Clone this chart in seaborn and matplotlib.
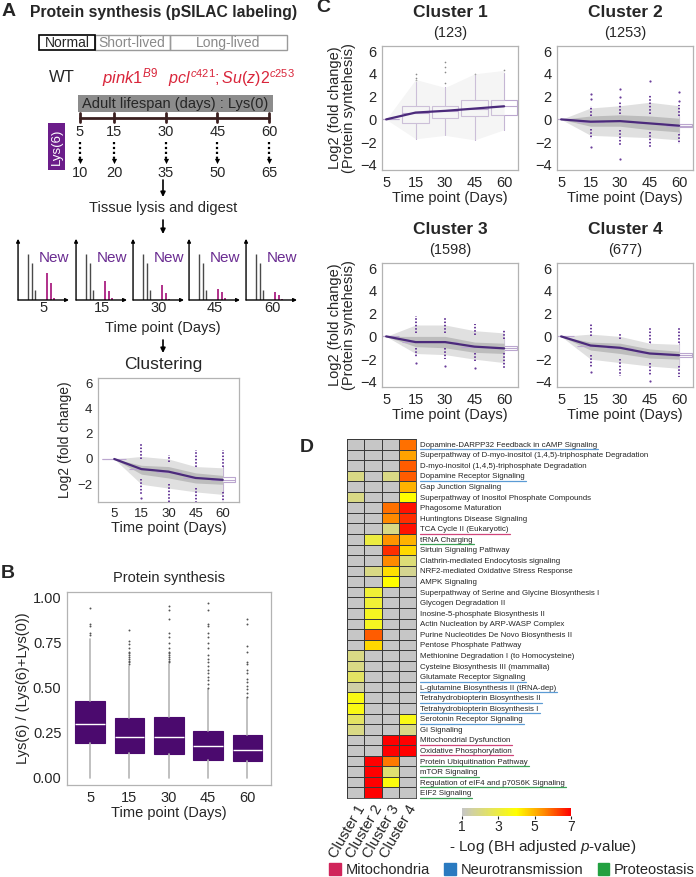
import numpy as np
import pandas as pd
import matplotlib
matplotlib.use('Agg')
import matplotlib.pyplot as plt
import seaborn as sns
from matplotlib.colors import LinearSegmentedColormap
from matplotlib.patches import Rectangle, Patch
from matplotlib.lines import Line2D

# ---------------- data ----------------
days = ['5', '15', '30', '45', '60']
day_vals = [5, 15, 30, 45, 60]
chase_days = ['10', '20', '35', '50', '65']

# panel A mini spectra (relative peak heights)
old_peaks = [0.76, 0.62, 0.16]
new_peaks = [[0.45, 0.29, 0.04], [0.32, 0.15, 0.03], [0.25, 0.12, 0.02],
             [0.19, 0.13, 0.04], [0.13, 0.09, 0.02]]

# panel B box statistics
b_q1 = [0.195, 0.135, 0.13, 0.10, 0.095]
b_med = [0.30, 0.225, 0.225, 0.175, 0.155]
b_q3 = [0.425, 0.33, 0.335, 0.26, 0.235]
b_lo = [0.0, 0.0, 0.0, 0.0, 0.0]
b_hi = [0.77, 0.62, 0.63, 0.49, 0.44]
b_fliers = [
    [0.79, 0.80, 0.84, 0.85, 0.94],
    [0.63, 0.64, 0.65, 0.66, 0.67, 0.68, 0.69, 0.70, 0.72, 0.74, 0.76, 0.82],
    [0.64, 0.65, 0.66, 0.67, 0.68, 0.69, 0.70, 0.72, 0.75, 0.78, 0.80, 0.88, 0.93, 0.95],
    [0.50, 0.52, 0.54, 0.56, 0.58, 0.60, 0.62, 0.64, 0.66, 0.68, 0.72, 0.75,
     0.78, 0.80, 0.84, 0.85, 0.93, 0.97],
    [0.45, 0.47, 0.49, 0.51, 0.53, 0.55, 0.58, 0.60, 0.63, 0.64, 0.70, 0.73, 0.85, 0.88],
]

# panel C clusters
clusters = ['Cluster 1', 'Cluster 2', 'Cluster 3', 'Cluster 4']
cluster_n = [123, 1253, 1598, 677]
mean_c = [[0, 0.6, 0.75, 0.95, 1.15], [0, -0.2, -0.15, -0.35, -0.55],
          [0, -0.5, -0.5, -0.9, -1.05], [0, -0.8, -1.0, -1.5, -1.65]]
env_hi = [[0, 3.5, 2.8, 4.0, 4.3], [0, 1.0, 1.2, 1.5, 1.2],
          [0, 1.0, 1.0, 0.5, 0.3], [0, 0.2, 0.0, -0.6, -0.7]]
env_lo = [[0, -1.7, -1.4, -1.8, -0.9], [0, -1.4, -1.5, -1.6, -1.8],
          [0, -1.5, -1.6, -2.0, -2.3], [0, -2.0, -2.3, -2.6, -2.8]]
core_hi = [[0, 1.2, 1.2, 1.7, 1.7], [0, 0.3, 0.4, 0.3, 0.1],
           [0, 0.0, 0.0, -0.5, -0.6], [0, -0.5, -0.6, -1.1, -1.3]]
core_lo = [[0, -0.3, 0.1, 0.3, 0.4], [0, -0.6, -0.6, -0.9, -1.1],
           [0, -0.9, -1.0, -1.4, -1.5], [0, -1.2, -1.5, -1.9, -2.0]]
c_q1 = [[0, -0.3, 0.1, 0.3, 0.4], [0, -0.45, -0.4, -0.6, -0.7],
        [0, -0.75, -0.75, -1.1, -1.2], [0, -1.05, -1.25, -1.75, -1.85]]
c_q3 = [[0, 1.15, 1.2, 1.7, 1.7], [0, 0.05, 0.1, -0.1, -0.4],
        [0, -0.25, -0.25, -0.7, -0.85], [0, -0.55, -0.75, -1.25, -1.45]]
c_wlo = [[0, -1.7, -1.4, -1.8, -0.9], [0, -0.8, -0.9, -1.1, -1.3],
         [0, -1.0, -1.0, -1.5, -1.5], [0, -1.6, -2.0, -2.3, -2.6]]
c_whi = [[0, 3.3, 2.8, 3.9, 4.1], [0, 0.3, 0.5, 0.5, 0.3],
         [0, 0.3, 0.3, 0.1, -0.2], [0, 0.0, -0.2, -0.6, -0.6]]
c1_fliers = [[], [3.5, 3.6, 4.0], [3.2, 4.2, 4.6, 5.0], [4.0], [4.3]]
up_runs = [None,
           [(0, 0), (0.3, 1.2), (0.5, 1.5), (0.5, 2.1), (0.3, 1.3)],
           [(0, 0), (0.3, 1.8), (0.3, 1.7), (0.1, 1.1), (-0.2, 0.6)],
           [(0, 0), (0.0, 1.2), (-0.2, 0.3), (-0.6, 0.7), (-0.6, 0.7)]]
dn_runs = [None,
           [(0, 0), (-0.8, -1.7), (-0.9, -2.3), (-1.1, -2.4), (-1.3, -2.2)],
           [(0, 0), (-1.0, -1.8), (-1.0, -2.0), (-1.5, -2.2), (-1.5, -2.8)],
           [(0, 0), (-1.6, -2.8), (-2.0, -3.5), (-2.3, -3.5), (-2.6, -3.6)]]
iso_pts = [None,
           [[], [1.8, 2.2, -2.4], [2.0, 2.7, -3.5], [3.4], [1.6, 2.4]],
           [[], [-2.3], [-2.6], [-2.8], []],
           [[], [-3.1], [], [-3.9], []]]

# panel D heatmap
pathways = [
    'Dopamine-DARPP32 Feedback in cAMP Signaling',
    'Superpathway of D-myo-inositol (1,4,5)-triphosphate Degradation',
    'D-myo-inositol (1,4,5)-triphosphate Degradation',
    'Dopamine Receptor Signaling',
    'Gap Junction Signaling',
    'Superpathway of Inositol Phosphate Compounds',
    'Phagosome Maturation',
    'Huntingtons Disease Signaling',
    'TCA Cycle II (Eukaryotic)',
    'tRNA Charging',
    'Sirtuin Signaling Pathway',
    'Clathrin-mediated Endocytosis signaling',
    'NRF2-mediated Oxidative Stress Response',
    'AMPK Signaling',
    'Superpathway of Serine and Glycine Biosynthesis I',
    'Glycogen Degradation II',
    'Inosine-5-phosphate Biosynthesis II',
    'Actin Nucleation by ARP-WASP Complex',
    'Purine Nucleotides De Novo Biosynthesis II',
    'Pentose Phosphate Pathway',
    'Methionine Degradation I (to Homocysteine)',
    'Cysteine Biosynthesis III (mammalia)',
    'Glutamate Receptor Signaling',
    'L-glutamine Biosynthesis II (tRNA-dep)',
    'Tetrahydrobiopterin Biosynthesis II',
    'Tetrahydrobiopterin Biosynthesis I',
    'Serotonin Receptor Signaling',
    'Gi Signaling',
    'Mitochondrial Dysfunction',
    'Oxidative Phosphorylation',
    'Protein Ubiquitination Pathway',
    'mTOR Signaling',
    'Regulation of eIF4 and p70S6K Signaling',
    'EIF2 Signaling',
]
c1_vals = [1, 1, 1, 2, 1, 2, 1, 1, 1, 1, 1, 1, 1, 1, 1, 1, 1,
           1, 1, 1, 2, 2, 2.5, 1.5, 3.7, 3.7, 2.5, 2, 1, 1, 1, 1, 1, 1]
c2_vals = [1, 1, 1, 1, 1, 1, 1, 1, 1, 3, 1, 1, 2, 1, 3.2, 3.2, 3.5,
           3.5, 6.0, 4.5, 1, 1, 1, 1, 1, 1, 1, 1, 1, 1, 7, 7, 7, 7]
c3_vals = [1, 1, 1, 2, 1, 1, 5.8, 5.5, 2, 5.4, 6.5, 5.5, 4.4, 4.0, 1, 1, 1,
           1, 1, 1, 1, 1, 1, 1, 1, 1, 1, 1, 7, 7, 5.7, 2.3, 3.8, 1]
c4_vals = [5.8, 5.2, 6.0, 6.0, 5.0, 4.0, 6.8, 6.5, 6.8, 5.0, 4.5, 2.2, 1.8, 1, 1, 1, 1,
           1, 1, 1, 1, 1, 1, 1, 1, 1, 3.7, 2, 7, 7, 1, 1, 1, 1]
path_cat = ['N', '', '', 'N', '', '', '', '', 'M', 'P', '', '', '', '', '', '', '',
            '', '', '', '', '', 'N', 'N', 'N', 'N', 'N', '', 'M', 'M', 'P', 'P', 'P', 'P']
cat_names = ['Mitochondria', 'Neurotransmission', 'Proteostasis']

# ---------------- style ----------------
sns.set_style('white')
plt.rcParams['font.family'] = ['Liberation Sans', 'DejaVu Sans']
plt.rcParams['mathtext.fontset'] = 'custom'
plt.rcParams['mathtext.it'] = 'Liberation Sans:italic'
plt.rcParams['mathtext.rm'] = 'Liberation Sans'
plt.rcParams['mathtext.bf'] = 'Liberation Sans:bold'

W, H = 696, 877
purple_dark = '#4b0a6e'
line_c = '#4b2a7b'
dot_c = '#6a3d9a'
box_edge = '#bba6cf'
spine_c = '#b3b3b3'
red_txt = '#d9263b'
cat_colors = {'M': '#d0245a', 'N': '#2a7ac0', 'P': '#22a040'}
ul_colors = {'M': '#d0457a', 'N': '#5b9bd5', 'P': '#3aa055'}


def box(l, t, r, b):
    return [l / W, 1 - b / H, (r - l) / W, (b - t) / H]


def style_axes(ax, fs):
    for s in ax.spines.values():
        s.set_visible(True)
        s.set_color(spine_c)
        s.set_linewidth(0.9)
    ax.tick_params(labelsize=fs, length=2, color=spine_c, pad=2)


def draw_cluster(ax, k, xlim, ylim, fs):
    x = np.arange(len(days))
    stats = []
    for j in range(len(days)):
        stats.append(dict(med=mean_c[k][j], q1=c_q1[k][j], q3=c_q3[k][j],
                          whislo=c_wlo[k][j], whishi=c_whi[k][j],
                          fliers=c1_fliers[j] if k == 0 else []))
    ax.bxp(stats, positions=x, widths=0.9, showcaps=False, patch_artist=True,
           showfliers=(k == 0),
           boxprops=dict(facecolor='white', edgecolor=box_edge, lw=0.8),
           whiskerprops=dict(color=box_edge, lw=0.8),
           medianprops=dict(color=box_edge, lw=0.8),
           flierprops=dict(marker='o', ms=1.2, mfc='#8a8a8a', mec='none'))
    if k == 0:
        ax.fill_between(x, env_lo[k], env_hi[k], color='#e6e6e6', alpha=0.4, lw=0, zorder=2)
    else:
        ax.fill_between(x, env_lo[k], env_hi[k], color='#e0e0e0', lw=0, zorder=2)
        ax.fill_between(x, core_lo[k], core_hi[k], color='#bdbdbd', lw=0, zorder=2)
        for j in range(len(days)):
            for a, b in (up_runs[k][j], dn_runs[k][j]):
                if a != b:
                    ax.vlines(j, a, b, colors=dot_c, linestyles=(0, (0.8, 0.9)), lw=1.4, zorder=4)
            pts = iso_pts[k][j]
            if pts:
                ax.scatter([j] * len(pts), pts, s=2.5, color=dot_c, lw=0, zorder=4)
    sns.lineplot(x=x, y=mean_c[k], ax=ax, color=line_c, lw=1.6, zorder=5)
    ax.set_xlim(*xlim)
    ax.set_ylim(*ylim)
    ax.set_xticks(x)
    ax.set_xticklabels(days)
    style_axes(ax, fs)


fig = plt.figure(figsize=(W / 100, H / 100), dpi=100)

# overlay for schematic (pixel coordinates)
ov = fig.add_axes([0, 0, 1, 1])
ov.set_xlim(0, W)
ov.set_ylim(H, 0)
ov.axis('off')


def t(x, y, s, **kw):
    kw.setdefault('ha', 'center')
    kw.setdefault('va', 'center')
    ov.text(x, y, s, **kw)


t(9, 11, 'A', fontsize=14, weight='bold')
t(30, 13, 'Protein synthesis (pSILAC labeling)', fontsize=11.3, weight='bold', ha='left')
ov.add_patch(Rectangle((95, 35), 75, 15, fill=False, ec='#9a9a9a', lw=1))
ov.add_patch(Rectangle((170, 35), 117, 15, fill=False, ec='#9a9a9a', lw=1))
ov.add_patch(Rectangle((39, 35), 56, 15, fill=False, ec='black', lw=1.2))
t(67, 43, 'Normal', fontsize=10)
t(132, 43, 'Short-lived', fontsize=10, color='#8a8a8a')
t(228, 43, 'Long-lived', fontsize=10, color='#8a8a8a')
t(62, 78, 'WT', fontsize=12)
t(130, 78, r'$pink1^{B9}$', fontsize=12, color=red_txt)
t(231, 78, r'$\mathit{pcl}^{c421}\mathit{;Su(z)2}^{c253}$', fontsize=11.5, color=red_txt)
ov.add_patch(Rectangle((78, 95), 195, 17, fc='#8c8c8c', ec='none'))
t(175, 104, 'Adult lifespan (days) : Lys(0)', fontsize=10.5)

# timeline, positions scaled by day
tl_x = [80 + (d - day_vals[0]) * 189 / (day_vals[-1] - day_vals[0]) for d in day_vals]
ov.plot([tl_x[0], tl_x[-1]], [118, 118], color='#3b2020', lw=2)
for i, xx in enumerate(tl_x):
    ov.plot([xx, xx], [113, 122], color='#3b2020', lw=2)
    t(xx, 132, days[i], fontsize=10.5)
    ov.plot([xx, xx], [142, 160], color='black', lw=1.6, ls=(0, (1, 1.2)))
    ov.scatter([xx], [161], marker='v', s=14, color='black', lw=0)
    t(xx, 173, chase_days[i], fontsize=10.5)
ov.add_patch(Rectangle((48, 123), 17, 47, fc='#6b1d8a', ec='none'))
t(56.5, 146.5, 'Lys(6)', fontsize=9.5, color='white', rotation=90)

for y0, y1 in [(180, 197), (220, 234), (340, 353)]:
    ov.annotate('', xy=(163, y1), xytext=(163, y0),
                arrowprops=dict(arrowstyle='-|>', color='black', lw=1.2,
                                mutation_scale=7, shrinkA=0, shrinkB=0))
t(163, 208, 'Tissue lysis and digest', fontsize=10.5)
t(163, 328, 'Time point (Days)', fontsize=10.5)
t(163, 365, 'Clustering', fontsize=12.5)

# mini spectra
spec_left = [17, 75, 132, 188, 245]
for i, l in enumerate(spec_left):
    sa = fig.add_axes(box(l, 240, l + 52, 300))
    sa.set_xlim(0, 1)
    sa.set_ylim(0, 1)
    sa.axis('off')
    sa.annotate('', xy=(0.02, 1.02), xytext=(0.02, 0), xycoords='axes fraction',
                arrowprops=dict(arrowstyle='-|>', color='black', lw=1, mutation_scale=5,
                                shrinkA=0, shrinkB=0))
    sa.annotate('', xy=(1.0, 0), xytext=(0.02, 0), xycoords='axes fraction',
                arrowprops=dict(arrowstyle='-|>', color='black', lw=1, mutation_scale=5,
                                shrinkA=0, shrinkB=0))
    sa.vlines([0.21, 0.28, 0.34], 0, old_peaks, colors='#4a4a4a', lw=1.0)
    sa.vlines([0.58, 0.65, 0.71], 0, new_peaks[i], colors='#b0308a', lw=1.4)
    sa.text(0.72, 0.7, 'New', fontsize=11, color='#6a2c91', ha='center', va='center')
    t(l + 27, 308, days[i], fontsize=10.5)

# clustering thumbnail (panel A)
axa = fig.add_axes(box(98, 378, 239, 502))
draw_cluster(axa, 3, (-0.6, 4.6), (-3.4, 6.4), 9.5)
axa.set_yticks([-2, 0, 2, 4, 6])
axa.set_xlabel('Time point (Days)', fontsize=10.5, labelpad=1)
axa.set_ylabel('Log2 (fold change)', fontsize=10)

# ---------------- panel B ----------------
t(8, 574, 'B', fontsize=14, weight='bold')
axb = fig.add_axes(box(67, 592, 271, 785))
bstats = []
for j in range(len(days)):
    bstats.append(dict(med=b_med[j], q1=b_q1[j], q3=b_q3[j], whislo=b_lo[j],
                       whishi=b_hi[j], fliers=b_fliers[j]))
axb.bxp(bstats, positions=range(len(days)), widths=0.75, patch_artist=True,
        showcaps=False,
        boxprops=dict(facecolor=purple_dark, edgecolor=purple_dark, lw=0.8),
        medianprops=dict(color='white', lw=1),
        whiskerprops=dict(color='#b5b5b5', lw=1.2),
        flierprops=dict(marker='o', ms=1.4, mfc='#555555', mec='none'))
axb.set_xlim(-0.59, 4.6)
axb.set_ylim(-0.04, 1.03)
axb.set_yticks([0, 0.25, 0.5, 0.75, 1.0])
axb.set_yticklabels(['0.00', '0.25', '0.50', '0.75', '1.00'])
axb.set_xticks(range(len(days)))
axb.set_xticklabels(days)
style_axes(axb, 10.5)
axb.set_title('Protein synthesis', fontsize=10.5, pad=7)
axb.set_xlabel('Time point (Days)', fontsize=10.5, labelpad=1)
axb.set_ylabel('Lys(6) / (Lys(6)+Lys(0))', fontsize=10.5, labelpad=2)

# ---------------- panel C ----------------
t(323, 8, 'C', fontsize=14, weight='bold')
c_pos = [(382, 46), (557, 46), (382, 263), (557, 263)]
for k, (l, tp) in enumerate(c_pos):
    ax = fig.add_axes(box(l, tp, l + 136, tp + 124))
    draw_cluster(ax, k, (-0.14, 4.47), (-4.44, 6.44), 10.5)
    ax.set_yticks([-4, -2, 0, 2, 4, 6])
    ax.text(0.5, 1.27, clusters[k], transform=ax.transAxes, fontsize=12.5,
            weight='bold', ha='center', va='center')
    ax.text(0.5, 1.105, '(%d)' % cluster_n[k], transform=ax.transAxes, fontsize=10.5,
            ha='center', va='center')
    ax.set_xlabel('Time point (Days)', fontsize=10.5, labelpad=1)
    if k % 2 == 0:
        ax.set_ylabel('Log2 (fold change)\n(Protein syntehesis)', fontsize=10.5,
                      linespacing=1.0, labelpad=3)

# ---------------- panel D ----------------
t(307, 447, 'D', fontsize=14, weight='bold')
df = pd.DataFrame({'Cluster 1': c1_vals, 'Cluster 2': c2_vals,
                   'Cluster 3': c3_vals, 'Cluster 4': c4_vals}, index=pathways)
cmap = LinearSegmentedColormap.from_list(
    'bh', [(0, '#c6c6c6'), (0.5, '#ffff00'), (0.75, '#ff8c00'), (1, '#ff0000')])
axh = fig.add_axes(box(347, 439, 416, 798))
cax = fig.add_axes(box(462, 808, 571, 816))
sns.heatmap(df, ax=axh, cmap=cmap, vmin=1, vmax=7, linewidths=0.6, linecolor='#3a3a3a',
            xticklabels=True, yticklabels=True,
            cbar_ax=cax, cbar_kws=dict(orientation='horizontal', ticks=[1, 3, 5, 7]))
for s in axh.spines.values():
    s.set_visible(True)
    s.set_color('#3a3a3a')
    s.set_linewidth(0.6)
axh.yaxis.tick_right()
axh.set_yticks(np.arange(len(pathways)) + 0.5)
axh.set_yticklabels(pathways, rotation=0, fontsize=5.7)
axh.tick_params(axis='y', length=0, pad=3)
axh.set_xticks(np.arange(len(clusters)) + 0.5)
axh.set_xticklabels(clusters, rotation=60, ha='right', rotation_mode='anchor', fontsize=10.5)
axh.tick_params(axis='x', length=0, pad=3)
axh.set_xlabel('')
axh.set_ylabel('')
cbar = axh.collections[0].colorbar
cbar.outline.set_visible(False)
cax.tick_params(labelsize=10, length=2, pad=1)
t(543, 847, r'- Log (BH adjusted $\it{p}$-value)', fontsize=11)

handles = [Patch(color=cat_colors[c]) for c in ['M', 'N', 'P']]
fig.legend(handles, cat_names, loc='center', bbox_to_anchor=(512 / W, 1 - 870 / H),
           ncol=3, frameon=False, fontsize=10.5, handlelength=0.8, handleheight=0.8,
           handletextpad=0.3, columnspacing=1.0)

# underlines for categorised pathways
fig.canvas.draw()
renderer = fig.canvas.get_renderer()
inv = fig.transFigure.inverted()
for lab, cat in zip(axh.get_yticklabels(), path_cat):
    if not cat:
        continue
    bb = lab.get_window_extent(renderer)
    (x0, y0), (x1, _) = inv.transform([(bb.x0, bb.y0 - 0.5), (bb.x1 + 1, bb.y0)])
    fig.add_artist(Line2D([x0, x1], [y0, y0], transform=fig.transFigure,
                          color=ul_colors[cat], lw=0.9))

fig.savefig('out.png', dpi=100)
